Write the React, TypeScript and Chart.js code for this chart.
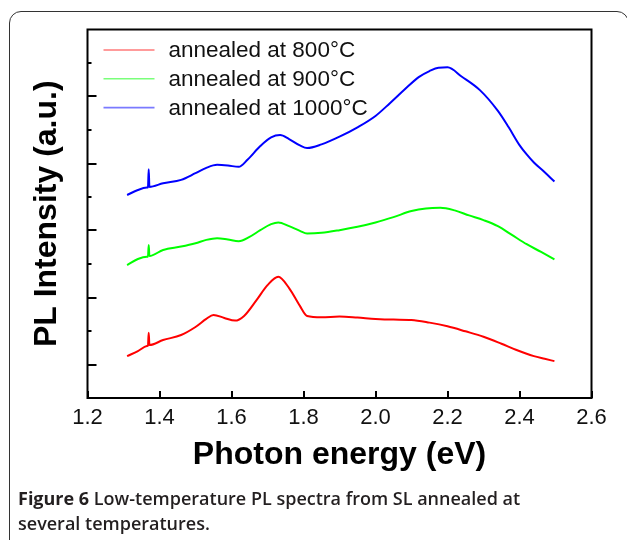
import React, { useEffect, useRef } from "react";
import { Chart, registerables } from "chart.js";

Chart.register(...registerables);

// ---- data ----
const xTickValues = [1.2, 1.4, 1.6, 1.8, 2.0, 2.2, 2.4, 2.6];
const yTickValues = [1, 2, 3, 4, 5, 6, 7, 8, 9, 10];
const seriesLabels = ["annealed at 800\u00B0C", "annealed at 900\u00B0C", "annealed at 1000\u00B0C"];
const seriesColors = ["#ff0000", "#00ff00", "#0000ff"];
const legendColors = ["#ff7a7a", "#7aff7a", "#7a7aff"];

const energy800 = [1.31, 1.34, 1.365, 1.368, 1.37, 1.372, 1.41, 1.46, 1.5, 1.53, 1.55, 1.58, 1.61, 1.635, 1.67, 1.7, 1.73, 1.76, 1.79, 1.81, 1.85, 1.9, 1.95, 2.0, 2.05, 2.1, 2.15, 2.2, 2.25, 2.3, 2.35, 2.39, 2.44, 2.47, 2.497];
const intensity800 = [1.25, 1.4, 1.55, 1.57, 1.95, 1.58, 1.73, 1.88, 2.12, 2.36, 2.48, 2.39, 2.31, 2.45, 2.93, 3.37, 3.62, 3.28, 2.75, 2.45, 2.41, 2.43, 2.4, 2.36, 2.34, 2.33, 2.25, 2.14, 1.99, 1.83, 1.62, 1.44, 1.25, 1.17, 1.1];

const energy900 = [1.31, 1.34, 1.365, 1.368, 1.37, 1.372, 1.41, 1.46, 1.5, 1.53, 1.56, 1.59, 1.62, 1.65, 1.68, 1.71, 1.73, 1.76, 1.79, 1.81, 1.85, 1.9, 1.95, 2.0, 2.05, 2.1, 2.14, 2.18, 2.22, 2.26, 2.3, 2.34, 2.38, 2.42, 2.46, 2.497];
const intensity900 = [3.97, 4.15, 4.22, 4.22, 4.57, 4.24, 4.42, 4.52, 4.62, 4.72, 4.77, 4.73, 4.68, 4.81, 5.01, 5.19, 5.24, 5.13, 4.99, 4.91, 4.93, 5.01, 5.11, 5.24, 5.4, 5.58, 5.66, 5.68, 5.6, 5.45, 5.31, 5.13, 4.86, 4.59, 4.36, 4.14];

const energy1000 = [1.31, 1.34, 1.365, 1.368, 1.37, 1.372, 1.41, 1.46, 1.5, 1.53, 1.56, 1.59, 1.62, 1.645, 1.68, 1.71, 1.735, 1.76, 1.79, 1.81, 1.85, 1.9, 1.95, 2.0, 2.04, 2.08, 2.12, 2.15, 2.175, 2.2, 2.24, 2.29, 2.34, 2.37, 2.4, 2.42, 2.44, 2.47, 2.497];
const intensity1000 = [6.06, 6.21, 6.28, 6.29, 6.83, 6.3, 6.41, 6.51, 6.71, 6.87, 6.96, 6.94, 6.9, 7.12, 7.52, 7.78, 7.85, 7.73, 7.54, 7.46, 7.57, 7.8, 8.08, 8.42, 8.8, 9.2, 9.58, 9.76, 9.86, 9.87, 9.59, 9.19, 8.57, 8.08, 7.55, 7.27, 7.03, 6.74, 6.46];

const FONT = "'Liberation Sans', Arial, sans-serif";

const toPoints = (xs: number[], ys: number[]) => xs.map((x, i) => ({ x, y: ys[i] }));

const framePlugin = {
  id: "frameTicks",
  afterDraw(chart: any) {
    const { ctx, chartArea } = chart;
    const xs = chart.scales.x;
    const ys = chart.scales.y;
    ctx.save();
    ctx.strokeStyle = "#000";
    ctx.lineWidth = 2;
    ctx.strokeRect(chartArea.left, chartArea.top, chartArea.right - chartArea.left, chartArea.bottom - chartArea.top);
    ctx.beginPath();
    xTickValues.forEach((v) => {
      const px = Math.round(xs.getPixelForValue(v));
      ctx.moveTo(px, chartArea.bottom);
      ctx.lineTo(px, chartArea.bottom - 7);
    });
    yTickValues.forEach((v) => {
      const py = Math.round(ys.getPixelForValue(v));
      const len = v % 2 === 1 ? 9 : 4;
      ctx.moveTo(chartArea.left, py);
      ctx.lineTo(chartArea.left + len, py);
    });
    ctx.stroke();

    // legend
    chart.data.datasets.forEach((ds: any, i: number) => {
      const y = chartArea.top + 20.5 + i * 28.8;
      ctx.beginPath();
      ctx.strokeStyle = legendColors[i];
      ctx.lineWidth = 1.6;
      ctx.moveTo(chartArea.left + 16, y);
      ctx.lineTo(chartArea.left + 67, y);
      ctx.stroke();
      ctx.fillStyle = "#111";
      ctx.font = `22.5px ${FONT}`;
      ctx.textBaseline = "middle";
      ctx.textAlign = "left";
      ctx.fillText(ds.label, chartArea.left + 81, y + 1);
    });
    ctx.restore();
  },
};

export default function App() {
  const canvasRef = useRef<HTMLCanvasElement | null>(null);

  useEffect(() => {
    if (!canvasRef.current) return;
    const chart = new Chart(canvasRef.current, {
      type: "scatter",
      data: {
        datasets: [
          { label: seriesLabels[0], data: toPoints(energy800, intensity800), borderColor: seriesColors[0] },
          { label: seriesLabels[1], data: toPoints(energy900, intensity900), borderColor: seriesColors[1] },
          { label: seriesLabels[2], data: toPoints(energy1000, intensity1000), borderColor: seriesColors[2] },
        ].map((d) => ({
          ...d,
          showLine: true,
          pointRadius: 0,
          borderWidth: 2,
          cubicInterpolationMode: "monotone" as const,
          backgroundColor: d.borderColor,
        })),
      },
      options: {
        animation: false,
        responsive: false,
        devicePixelRatio: 1,
        layout: { padding: { left: 0, top: 29.5, right: 35.5, bottom: 0 } },
        plugins: { legend: { display: false }, tooltip: { enabled: false } },
        scales: {
          x: {
            type: "linear",
            min: 1.2,
            max: 2.6,
            afterBuildTicks: (s: any) => {
              s.ticks = xTickValues.map((v) => ({ value: v }));
            },
            afterFit: (s: any) => {
              s.height = 142;
            },
            ticks: {
              color: "#111",
              font: { family: FONT, size: 22 },
              padding: -1,
              maxRotation: 0,
              autoSkip: false,
              callback: (v: any) => Number(v).toFixed(1),
            },
            grid: { display: false },
            border: { display: false },
            title: {
              display: true,
              text: "Photon energy (eV)",
              color: "#000",
              font: { family: FONT, size: 32, weight: "bold" },
              padding: { top: 0, bottom: 66 },
            },
          },
          y: {
            type: "linear",
            min: 0,
            max: 11,
            afterBuildTicks: (s: any) => {
              s.ticks = yTickValues.map((v) => ({ value: v }));
            },
            afterFit: (s: any) => {
              s.width = 87.5;
            },
            ticks: { display: false },
            grid: { display: false },
            border: { display: false },
            title: {
              display: true,
              text: "PL Intensity (a.u.)",
              color: "#000",
              font: { family: FONT, size: 32, weight: "bold" },
              padding: { top: 28, bottom: 0 },
            },
          },
        },
      },
      plugins: [framePlugin],
    });
    return () => chart.destroy();
  }, []);

  return (
    <div
      style={{
        position: "fixed",
        left: 0,
        top: 0,
        width: 627,
        height: 540,
        overflow: "hidden",
        background: "#fff",
      }}
    >
      <canvas ref={canvasRef} width={627} height={540} style={{ position: "absolute", left: 0, top: 0 }} />
      <div
        style={{
          position: "absolute",
          left: 9,
          top: 11,
          width: 620,
          height: 600,
          border: "1.5px solid #333",
          borderRadius: 12,
          boxSizing: "border-box",
          pointerEvents: "none",
        }}
      />
      <div
        style={{
          position: "absolute",
          left: 18,
          top: 486,
          width: 600,
          fontFamily: "'Open Sans', sans-serif",
          fontSize: 18,
          lineHeight: "25px",
          color: "#231f20",
          fontWeight: 600,
        }}
      >
        <span style={{ fontWeight: 700 }}>Figure 6</span> Low-temperature PL spectra from SL annealed at
        <br />
        several temperatures.
      </div>
    </div>
  );
}
